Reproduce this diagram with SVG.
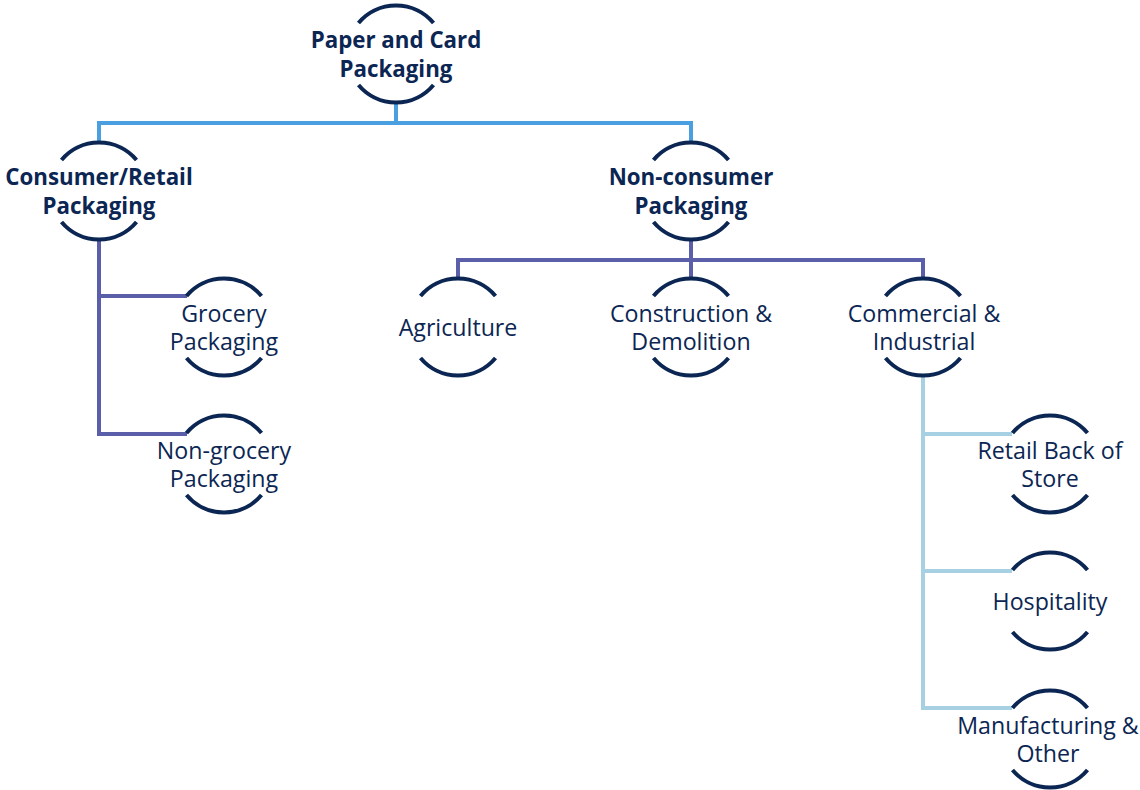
<svg xmlns="http://www.w3.org/2000/svg" width="1140" height="790" viewBox="0 0 1140 790">
<defs>
<style>
.arc{fill:none;stroke:#0B2653;stroke-width:4}
.t{font-family:"Open Sans","Liberation Sans",sans-serif;font-size:23.2px;fill:#0B2653;text-anchor:middle}
.b{font-weight:bold;font-size:22.3px}
.c1{fill:none;stroke:#4A9FE0;stroke-width:4}
.c2{fill:none;stroke:#5B5EA8;stroke-width:4}
.c3{fill:none;stroke:#A8D0E3;stroke-width:4}
</style>
<g id="rings">
<path id="ring" class="arc" d="M-37.5,-31 A49,49 0 0 1 37.5,-31 M-37.5,31 A49,49 0 0 0 37.5,31"/>
</g>
</defs>
<rect width="1140" height="790" fill="#fff"/>
<g id="connectors">
<path class="c1" d="M396,103 V123 M99,142 V123 H691 V142"/>
<path class="c2" d="M99,240 V434 H187 M99,296 H187"/>
<path class="c2" d="M691,240 V260 M458,278 V260 H923 V278 M691,260 V278"/>
<path class="c3" d="M923,376 V708 H1012 M923,434 H1012 M923,571 H1012"/>
</g>
<g id="n-root"><use href="#ring" x="396" y="54"/><text class="t b" x="396" y="48">Paper and Card<tspan x="396" dy="28.5">Packaging</tspan></text></g>
<g id="n-consumer"><use href="#ring" x="99" y="191"/><text class="t b" x="99" y="185">Consumer/Retail<tspan x="99" dy="28.5">Packaging</tspan></text></g>
<g id="n-nonconsumer"><use href="#ring" x="691" y="191"/><text class="t b" x="691" y="185">Non-consumer<tspan x="691" dy="28.5">Packaging</tspan></text></g>
<g id="n-grocery"><use href="#ring" x="224" y="327"/><text class="t" x="224" y="321.5">Grocery<tspan x="224" dy="28.5">Packaging</tspan></text></g>
<g id="n-nongrocery"><use href="#ring" x="224" y="464"/><text class="t" x="224" y="458.5">Non-grocery<tspan x="224" dy="28.5">Packaging</tspan></text></g>
<g id="n-agriculture"><use href="#ring" x="458" y="327"/><text class="t" x="458" y="336">Agriculture</text></g>
<g id="n-construction"><use href="#ring" x="691" y="327"/><text class="t" x="691" y="321.5">Construction &amp;<tspan x="691" dy="28.5">Demolition</tspan></text></g>
<g id="n-commercial"><use href="#ring" x="923" y="327"/><text class="t" x="924" y="321.5">Commercial &amp;<tspan x="924" dy="28.5">Industrial</tspan></text></g>
<g id="n-retail"><use href="#ring" x="1050" y="464"/><text class="t" x="1050" y="458.5">Retail Back of<tspan x="1050" dy="28.5">Store</tspan></text></g>
<g id="n-hospitality"><use href="#ring" x="1050" y="601"/><text class="t" x="1050" y="610">Hospitality</text></g>
<g id="n-manufacturing"><use href="#ring" x="1050" y="739"/><text class="t" x="1048" y="733.5">Manufacturing &amp;<tspan x="1048" dy="28.5">Other</tspan></text></g>
</svg>
